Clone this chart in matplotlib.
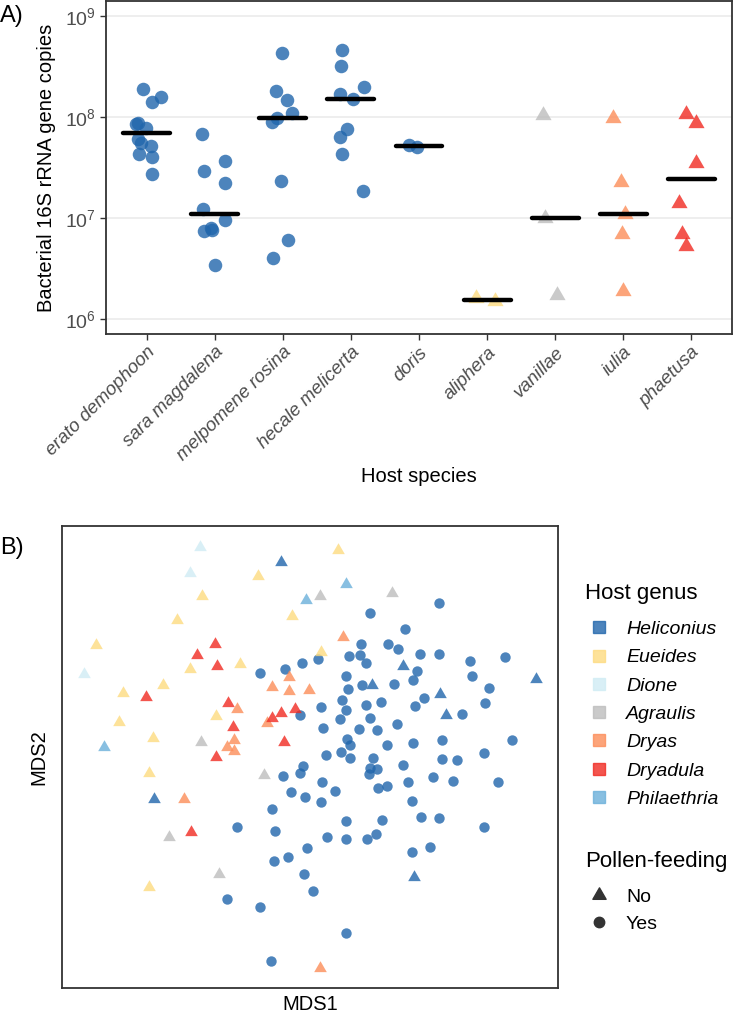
import numpy as np
import matplotlib
matplotlib.use('Agg')
import matplotlib.pyplot as plt
from matplotlib.path import Path
from matplotlib.lines import Line2D

plt.rcParams['font.family'] = ['Liberation Sans', 'DejaVu Sans']
plt.rcParams['mathtext.fontset'] = 'custom'
plt.rcParams['mathtext.rm'] = 'Liberation Sans'
plt.rcParams['mathtext.it'] = 'Liberation Sans:italic'

# ---------------- Panel A data ----------------
species = ['erato demophoon', 'sara magdalena', 'melpomene rosina', 'hecale melicerta',
           'doris', 'aliphera', 'vanillae', 'iulia', 'phaetusa']
species_genus = ['Heliconius', 'Heliconius', 'Heliconius', 'Heliconius',
                 'Heliconius', 'Eueides', 'Agraulis', 'Dryas', 'Dryadula']
species_pollen = ['Yes', 'Yes', 'Yes', 'Yes', 'Yes', 'No', 'No', 'No', 'No']

copies_erato = [1.88e8, 1.42e8, 1.59e8, 8.8e7, 8.5e7, 7.8e7, 6.0e7, 5.5e7, 5.2e7, 4.3e7, 4.0e7, 2.75e7]
copies_sara = [6.8e7, 2.9e7, 3.7e7, 2.2e7, 1.22e7, 9.6e6, 8.0e6, 7.4e6, 7.6e6, 3.4e6]
copies_melpomene = [4.3e8, 1.8e8, 1.47e8, 1.1e8, 9.7e7, 9.0e7, 2.34e7, 6.0e6, 4.0e6]
copies_hecale = [4.6e8, 3.2e8, 1.7e8, 2.0e8, 1.5e8, 7.6e7, 6.4e7, 4.3e7, 1.85e7]
copies_doris = [5.3e7, 5.1e7]
copies_aliphera = [1.61e6, 1.49e6]
copies_vanillae = [1.04e8, 1.0e7, 1.73e6]
copies_iulia = [9.8e7, 2.26e7, 1.1e7, 7.0e6, 1.9e6]
copies_phaetusa = [1.07e8, 8.8e7, 3.5e7, 1.4e7, 7.0e6, 5.3e6]

jitter_erato = [-0.063, 0.083, 0.205, -0.136, -0.161, -0.015, -0.136, -0.088, 0.059, -0.113, 0.069, 0.083]
jitter_sara = [-0.186, -0.161, 0.151, 0.146, -0.171, 0.146, -0.063, -0.161, -0.040, 0.0]
jitter_melpomene = [-0.019, -0.107, 0.054, 0.136, -0.083, -0.165, -0.029, 0.078, -0.151]
jitter_hecale = [-0.136, -0.146, -0.161, 0.19, 0.025, -0.063, -0.161, -0.136, 0.171]
jitter_doris = [-0.146, -0.025]
jitter_aliphera = [-0.165, 0.113]
jitter_vanillae = [-0.171, -0.146, 0.025]
jitter_iulia = [-0.142, -0.025, 0.025, -0.01, 0.004]
jitter_phaetusa = [-0.078, 0.078, 0.078, -0.176, -0.136, -0.078]

copies_all = [copies_erato, copies_sara, copies_melpomene, copies_hecale, copies_doris,
              copies_aliphera, copies_vanillae, copies_iulia, copies_phaetusa]
jitter_all = [jitter_erato, jitter_sara, jitter_melpomene, jitter_hecale, jitter_doris,
              jitter_aliphera, jitter_vanillae, jitter_iulia, jitter_phaetusa]

yticks_a = [1e6, 1e7, 1e8, 1e9]
ytick_labels_a = [r'$10^{6}$', r'$10^{7}$', r'$10^{8}$', r'$10^{9}$']

# ---------------- Panel B data (MDS) ----------------
genera = ['Heliconius', 'Eueides', 'Dione', 'Agraulis', 'Dryas', 'Dryadula', 'Philaethria']
genus_colors = ['#2166AC', '#FDDB80', '#D0ECF4', '#BDBDBD', '#FC8D59', '#F02A22', '#6BB0DA']

# Heliconius, pollen-feeding (circles)
hel_yes_mds1 = [-0.50, -0.25, -0.08, 0.08, 0.11, 0.32, -0.10, 0.13, 0.30, 0.16, 0.31, -0.07, -0.10, -0.27,
                0.12, 0.25, -0.19, -0.05, 0.11, -0.38, -0.73, -0.35, 0.17, 0.60, 1.29, 0.95, 0.51, 0.78,
                0.88, 0.39, 0.50, 0.56, 1.10, 1.29, 1.60, 1.95, 1.07, 0.36, 0.52, 0.38, 0.84, 1.03, 1.62,
                1.79, 1.14, 0.56, 0.71, 1.05, 1.75, 0.36, 1.52, 0.60, 0.49, 0.67, 0.87, 1.32, 2.02, 0.37,
                0.40, 0.77, 1.03, 0.40, 0.63, 1.32, 1.47, 1.74, 0.60, 0.67, 0.59, 0.93, 1.23, 1.43, 1.88,
                0.68, 0.77, 0.98, 1.02, 0.36, 0.72, 1.11, 1.29, 1.74, 0.36, 0.57, 0.66, -0.03, -0.22,
                -0.36, -0.06, 0.03, 1.02, 1.20, -0.83, -0.50, 0.36, -0.39]
hel_yes_mds2 = [0.84, 0.88, 0.94, 0.98, 0.50, 0.57, 0.42, 0.29, 0.38, 0.02, 0.05, -0.09, -0.16, -0.19,
                -0.25, -0.34, -0.35, -0.40, -0.45, -0.52, -0.70, -0.74, -0.80, 1.44, 1.54, 1.28, 1.13, 1.13,
                1.08, 1.01, 1.02, 0.94, 1.03, 1.03, 0.96, 1.00, 0.86, 0.81, 0.72, 0.68, 0.73, 0.77, 0.81,
                0.69, 0.59, 0.52, 0.55, 0.51, 0.54, 0.47, 0.43, 0.39, 0.28, 0.27, 0.33, 0.17, 0.17, 0.18,
                0.12, 0.12, 0.14, -0.01, -0.01, -0.02, -0.03, 0.04, -0.11, -0.12, -0.17, -0.08, -0.20, -0.24,
                -0.25, -0.31, -0.29, -0.25, -0.44, -0.64, -0.63, -0.60, -0.61, -0.70, -0.82, -0.82, -0.77,
                -0.91, -1.00, -1.04, -1.17, -1.34, -0.95, -0.90, -1.42, -1.50, -1.76, -2.04]
# Heliconius, not pollen-feeding (triangles)
hel_no_mds1 = [-0.29, 0.93, 0.62, 2.26, 1.30, 1.36, -1.56, 1.04]
hel_no_mds2 = [1.95, 0.91, 0.72, 0.78, 0.63, 0.42, -0.42, -1.20]
eue_mds1 = [-0.52, -1.08, -1.33, -2.14, -0.70, -1.20, -1.47, -1.87, -0.94, -1.91, -1.57, -1.61, 0.28, -0.18, 0.11, -1.61]
eue_mds2 = [1.81, 1.61, 1.37, 1.12, 0.93, 0.88, 0.72, 0.64, 0.41, 0.35, 0.19, -0.16, 2.07, 1.41, 1.05, -1.30]
dio_mds1 = [-1.10, -1.20, -2.26]
dio_mds2 = [2.10, 1.84, 0.83]
agr_mds1 = [0.10, 0.82, -1.09, -0.46, -1.41, -0.91]
agr_mds2 = [1.61, 1.64, 0.15, -0.18, -0.80, -1.17]
dry_mds1 = [-0.38, -0.73, -0.43, -0.76, -0.83, -0.76, -0.21, -0.21, -0.01, 0.33, -1.26, 0.10]
dry_mds2 = [0.70, 0.48, 0.34, 0.17, 0.10, 0.06, 0.80, 0.66, 0.67, 1.20, -0.42, -2.11]
dla_mds1 = [-0.95, -1.13, -0.93, -1.64, -0.82, -0.77, -0.94, -0.38, -0.29, -0.15, -0.26, -1.19]
dla_mds2 = [1.13, 1.02, 0.91, 0.60, 0.54, 0.30, 0.00, 0.39, 0.445, 0.48, 0.155, -0.75]
phi_mds1 = [-2.06, 0.36, -0.04]
phi_mds2 = [0.10, 1.73, 1.57]

# ---------------- helpers ----------------
TRI = Path([(0, 1), (-0.866, -0.5), (0.866, -0.5), (0, 1)],
           [Path.MOVETO, Path.LINETO, Path.LINETO, Path.CLOSEPOLY])
color_of = dict(zip(genera, genus_colors))
ALPHA = 0.8
SPINE = '#333333'
TICKTXT = '#4D4D4D'

fig = plt.figure(figsize=(7.34, 10.15), dpi=100)

# ================= Panel A =================
axA = fig.add_axes([106 / 734, 1 - 334 / 1015, 626 / 734, 333 / 1015])
axA.set_yscale('log')
axA.set_ylim(10 ** 5.85, 10 ** 9.15)
axA.set_xlim(0.4, len(species) + 0.6)
for i, (vals, jit) in enumerate(zip(copies_all, jitter_all)):
    pos = i + 1
    col = color_of[species_genus[i]]
    mk = 'o' if species_pollen[i] == 'Yes' else TRI
    s = 95 if mk == 'o' else 180
    axA.scatter(np.array(jit) + pos, vals, s=s, marker=mk, color=col, alpha=ALPHA,
                linewidths=0, zorder=3)
    med = np.median(vals)
    axA.hlines(med, pos - 0.345, pos + 0.345, color='black', lw=3.2, zorder=4,
               capstyle='round')
axA.set_yticks(yticks_a)
axA.set_yticklabels(ytick_labels_a)
axA.yaxis.set_minor_locator(matplotlib.ticker.NullLocator())
axA.set_xticks(range(1, len(species) + 1))
axA.set_xticklabels(species, rotation=45, ha='right', va='top', rotation_mode='anchor',
                    fontstyle='italic', fontsize=13.5, color=TICKTXT)
axA.tick_params(axis='y', labelsize=14, labelcolor=TICKTXT, length=4, width=1, color=SPINE)
axA.tick_params(axis='x', length=4, width=1, color=SPINE, pad=3)
axA.grid(axis='y', which='major', color='#EBEBEB', lw=1.2, zorder=0)
axA.set_axisbelow(True)
for sp in axA.spines.values():
    sp.set_color(SPINE)
    sp.set_linewidth(1.3)
axA.set_ylabel('Bacterial 16S rRNA gene copies', fontsize=14.5, labelpad=6)
axA.set_xlabel('Host species', fontsize=14.5, labelpad=2)
fig.text(0 / 734, 1 - 16 / 1015, 'A)', fontsize=17, va='center', ha='left')

# ================= Panel B =================
axB = fig.add_axes([62 / 734, 1 - 988 / 1015, 496 / 734, 462 / 1015])
axB.set_xlim(-2.48, 2.48)
axB.set_ylim(-2.31, 2.31)
groups = [
    ('Heliconius', hel_yes_mds1, hel_yes_mds2, 'o'),
    ('Heliconius', hel_no_mds1, hel_no_mds2, TRI),
    ('Eueides', eue_mds1, eue_mds2, TRI),
    ('Dione', dio_mds1, dio_mds2, TRI),
    ('Agraulis', agr_mds1, agr_mds2, TRI),
    ('Dryas', dry_mds1, dry_mds2, TRI),
    ('Dryadula', dla_mds1, dla_mds2, TRI),
    ('Philaethria', phi_mds1, phi_mds2, TRI),
]
for g, xs, ys, mk in groups:
    s = 56 if mk == 'o' else 110
    axB.scatter(xs, ys, s=s, marker=mk, color=color_of[g], alpha=ALPHA, linewidths=0, zorder=3)
axB.set_xticks([])
axB.set_yticks([])
for sp in axB.spines.values():
    sp.set_color(SPINE)
    sp.set_linewidth(1.3)
axB.set_xlabel('MDS1', fontsize=14.5, labelpad=5)
axB.set_ylabel('MDS2', fontsize=14.5, labelpad=10)
fig.text(0 / 734, 1 - 548 / 1015, 'B)', fontsize=17, va='center', ha='left')

# legends
LEG_FS = 14
h1 = [Line2D([], [], marker='s', ls='none', color=c, alpha=ALPHA, markersize=8) for c in genus_colors]
leg1 = axB.legend(h1, genera, title='Host genus', loc='upper left',
                  bbox_to_anchor=(585 / 734, 1 - 583 / 1015), bbox_transform=fig.transFigure,
                  frameon=False, prop={'style': 'italic', 'size': LEG_FS},
                  title_fontproperties={'size': 16}, alignment='left',
                  labelspacing=0.55, handletextpad=0.67, handlelength=1.44, borderaxespad=0,
                  borderpad=0)
leg1._legend_box.sep = 11.8
axB.add_artist(leg1)
h2 = [Line2D([], [], marker=TRI, ls='none', color='#333333', markersize=11),
      Line2D([], [], marker='o', ls='none', color='#333333', markersize=7.5)]
leg2 = axB.legend(h2, ['No', 'Yes'], title='Pollen-feeding', loc='upper left',
                  bbox_to_anchor=(585 / 734, 1 - 851 / 1015), bbox_transform=fig.transFigure,
                  frameon=False, prop={'size': LEG_FS},
                  title_fontproperties={'size': 16}, alignment='left',
                  labelspacing=0.5, handletextpad=0.67, handlelength=1.44, borderaxespad=0,
                  borderpad=0)
leg2._legend_box.sep = 11.5

fig.savefig('out.png', dpi=100)
